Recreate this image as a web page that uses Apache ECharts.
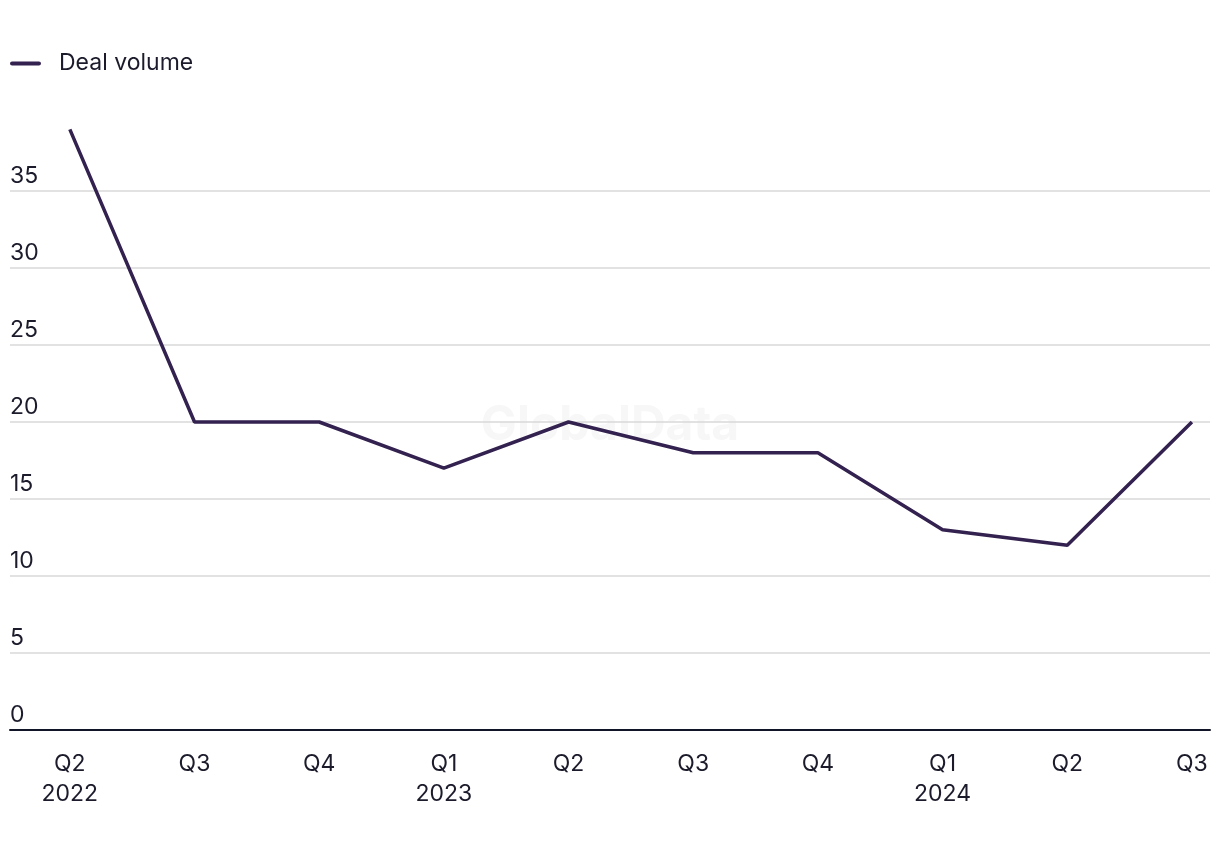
<!DOCTYPE html>
<html><head><meta charset="utf-8">
<script src="https://cdn.jsdelivr.net/npm/echarts@6/dist/echarts.min.js"></script>
<style>html,body{margin:0;padding:0;background:#fff}#c{width:1220px;height:850px}</style>
</head><body><div id="c"></div>
<script>
const quarters = ['Q2\n2022','Q3','Q4','Q1\n2023','Q2','Q3','Q4','Q1\n2024','Q2','Q3'];
const dealVolume = [39, 20, 20, 17, 20, 18, 18, 13, 12, 20];
const yTicks = [0, 5, 10, 15, 20, 25, 30, 35];

const FONT = 'Inter, "Noto Sans", sans-serif';
const TXT = '#1b1b2b';
const chart = echarts.init(document.getElementById('c'), null, {renderer: 'canvas'});
chart.setOption({
  animation: false,
  textStyle: {fontFamily: FONT},
  graphic: [{
    type: 'text', left: 'center', top: 402, z: 0, silent: true,
    style: {text: 'GlobalData', fontFamily: FONT, fontSize: 48, fontWeight: 'bold', fill: '#f7f7f7'}
  }],
  legend: {
    left: 10, top: 52, padding: 0, itemWidth: 31, itemHeight: 14,
    textStyle: {fontSize: 23, color: TXT, fontFamily: FONT, padding: [0, 0, 0, 13]},
    data: [{name: 'Deal volume', icon: 'path://M2,5 L28,5 A2,2 0 0 1 28,9 L2,9 A2,2 0 0 1 2,5 Z'}]
  },
  grid: {left: 10, right: 10, top: 114, bottom: 120, containLabel: false},
  xAxis: {
    type: 'value', min: -0.48, max: 9.145,
    splitLine: {show: false},
    axisLine: {show: true, onZero: false, lineStyle: {color: '#121527', width: 2}},
    axisTick: {show: false},
    axisLabel: {
      customValues: quarters.map((q, i) => i),
      formatter: v => quarters[Math.round(v)],
      fontSize: 23, color: TXT, fontFamily: FONT, lineHeight: 30, margin: 19
    }
  },
  yAxis: {
    type: 'value', min: 0, max: 40, interval: 5,
    axisLine: {show: false}, axisTick: {show: false},
    splitLine: {show: true, showMaxLine: false, lineStyle: {color: '#d9d9d9', width: 1.5}},
    axisLabel: {
      inside: true, margin: 0, verticalAlign: 'bottom', showMaxLabel: false,
      padding: [0, 0, 3, 0],
      fontSize: 23, color: TXT, fontFamily: FONT,
      formatter: v => yTicks.includes(v) ? String(v) : ''
    }
  },
  series: [{
    name: 'Deal volume', type: 'line', symbol: 'none', showSymbol: false,
    data: dealVolume.map((v, i) => [i, v]),
    lineStyle: {color: '#33214f', width: 3.5},
    itemStyle: {color: '#33214f'}, z: 3
  }]
});
</script></body></html>
